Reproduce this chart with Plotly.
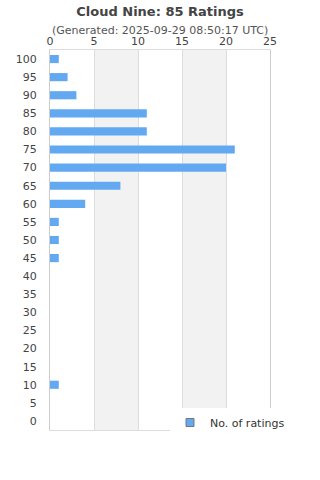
import plotly.graph_objects as go

categories = ["100", "95", "90", "85", "80", "75", "70", "65", "60", "55", "50",
              "45", "40", "35", "30", "25", "20", "15", "10", "5", "0"]
counts = [1, 2, 3, 11, 11, 21, 20, 8, 4, 1, 1, 1, 0, 0, 0, 0, 0, 0, 1, 0, 0]
x_ticks = [0, 5, 10, 15, 20, 25]

BAR = "#63a9f1"
FONT = "DejaVu Sans"

fig = go.Figure()
fig.add_trace(go.Bar(
    x=counts, y=categories, orientation="h",
    marker=dict(color=BAR, line=dict(width=0)),
    showlegend=False, name="No. of ratings",
))
fig.add_trace(go.Scatter(
    x=[None], y=[None], mode="markers", name="No. of ratings",
    marker=dict(symbol="square", size=8, color=BAR, line=dict(color="#777", width=1)),
))

for a, b in [(5, 10), (15, 20)]:
    fig.add_shape(type="rect", xref="x", yref="paper", x0=a, x1=b, y0=0, y1=1,
                  fillcolor="#f2f2f2", line=dict(width=0), layer="below")

fig.update_layout(
    width=320, height=480,
    margin=dict(l=50, r=50, t=50, b=50),
    paper_bgcolor="white", plot_bgcolor="white",
    font=dict(family=FONT, size=11, color="#444"),
    bargap=0.55,
    title=dict(text="<b>Cloud Nine: 85 Ratings</b>", x=0.5, xanchor="center",
               yref="container", y=1 - 11 / 480, yanchor="middle",
               font=dict(family=FONT, size=13, color="#444")),
    annotations=[dict(text="(Generated: 2025-09-29 08:50:17 UTC)", xref="paper", yref="paper",
                      x=0.5, y=(430 - 30) / 380, xanchor="center", yanchor="middle",
                      showarrow=False, font=dict(family=FONT, size=11, color="#555"))],
    xaxis=dict(side="top", range=[0, 25], tickvals=x_ticks, ticktext=[str(t) for t in x_ticks],
               showgrid=True, gridcolor="#dddddd", gridwidth=1, zeroline=False,
               showline=True, linecolor="#dddddd", mirror=True, ticks="",
               tickfont=dict(size=11, color="#444"), fixedrange=True),
    yaxis=dict(type="category", categoryorder="array", categoryarray=categories[::-1],
               showgrid=False, zeroline=False, showline=True, linecolor="#cccccc", mirror=True,
               ticks="", ticklabelstandoff=10, tickfont=dict(size=11, color="#444"),
               fixedrange=True),
    legend=dict(x=(170 - 50) / 220, y=(430 - 408) / 380, xanchor="left", yanchor="top",
                bgcolor="white", font=dict(family=FONT, size=11, color="#333"),
                itemwidth=30),
)

fig.write_html("out.html")
